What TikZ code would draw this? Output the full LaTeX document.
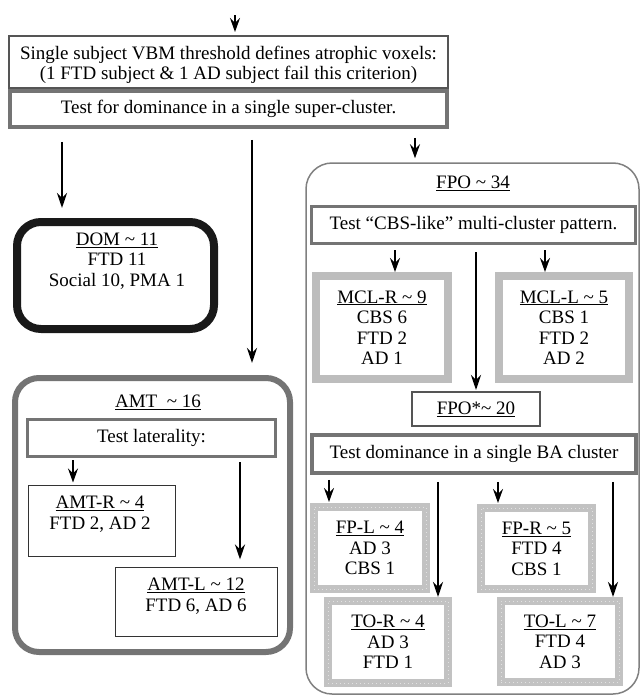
\documentclass[tikz,border=0pt]{standalone}
\usepackage{fontspec}
\setmainfont{Liberation Serif}
\usetikzlibrary{arrows.meta}
\definecolor{darkframe}{HTML}{555555}
\definecolor{midframe}{HTML}{747474}
\definecolor{lightframe}{HTML}{BDBDBD}
\definecolor{dotframe}{HTML}{C2C2C2}
\definecolor{dotlight}{HTML}{E2E2E2}
\begin{document}
\begin{tikzpicture}[x=1pt,y=-1pt,
  txt/.style={align=center,inner sep=0pt,font=\fontsize{19}{20.5}\selectfont},
  plainbox/.style={draw=darkframe,line width=2pt,fill=white,inner sep=0pt},
  testbox/.style={draw=midframe,line width=3.5pt,fill=white,inner sep=0pt},
  thinbox/.style={draw=black!80,line width=1pt,fill=white,inner sep=0pt},
  heavybox/.style={draw=black!90,line width=8pt,rounded corners=24pt,fill=white,inner sep=0pt},
  amtbox/.style={draw=midframe,line width=6pt,rounded corners=24pt,fill=white,inner sep=0pt},
  groupbox/.style={draw=gray,line width=1.5pt,rounded corners=26pt,fill=white,inner sep=0pt},
  greybox/.style={draw=lightframe,line width=8pt,fill=white,inner sep=0pt},
  dotbox/.style={draw=dotframe,line width=8pt,fill=white,inner sep=0pt,
    postaction={draw=dotlight,line width=1pt,dash pattern=on 1pt off 3pt}},
  arr/.style={-{Stealth[length=15pt,width=10pt,inset=5pt]},line width=2.6pt},
  sarr/.style={-{Stealth[length=14pt,width=10pt,inset=5pt]},line width=1.8pt}]
\useasboundingbox (0,0) rectangle (641,696);

% threshold and first test
\node[plainbox,minimum width=439pt,minimum height=52pt] (thr) at (228.5,62) {};
\node[txt] (thrtext) at (228.5,65) {Single subject VBM threshold defines atrophic voxels:\\(1 FTD subject \& 1 AD subject fail this criterion)};
\node[testbox,minimum width=437pt,minimum height=36pt,txt] (sup) at (228.5,109) {Test for dominance in a single super-cluster.};
\coordinate (entry) at (235,15);
\draw[sarr,shorten >=3pt] (entry) -- (thr.north -| entry);

% dominant cluster
\node[heavybox,minimum width=197pt,minimum height=107pt] (dom) at (115.5,275.5) {};
\node[txt] (domtext) at (117,261) {\underline{DOM \textasciitilde{} 11}\\FTD 11\\Social 10, PMA 1};

% anterior medial temporal group
\node[amtbox,minimum width=275pt,minimum height=274pt] (amt) at (152.5,515) {};
\node[txt] (amttitle) at (158,402) {\underline{AMT\ \ \textasciitilde{} 16}};
\node[testbox,line width=3pt,minimum width=248pt,minimum height=37pt,txt] (lat) at (151.5,438) {Test laterality:};
\node[thinbox,minimum width=147pt,minimum height=71pt] (amtr) at (101.5,520.5) {};
\node[txt] (amtrtext) at (100,514) {\underline{AMT-R \textasciitilde{} 4}\\FTD 2, AD 2};
\node[thinbox,minimum width=162pt,minimum height=69pt] (amtl) at (196,601.5) {};
\node[txt] (amtltext) at (196,596) {\underline{AMT-L \textasciitilde{} 12}\\FTD 6, AD 6};

% fronto-parietal-occipital group
\node[groupbox,minimum width=333pt,minimum height=531pt] (fpo) at (472.5,428.5) {};
\node[txt] (fpotitle) at (473,183) {\underline{FPO \textasciitilde{} 34}};
\node[testbox,line width=3pt,minimum width=324pt,minimum height=37pt,txt] (cbs) at (473.5,225) {Test “CBS-like” multi-cluster pattern.};
\node[greybox,minimum width=132pt,minimum height=103pt,txt] (mclr) at (382,327.5) {\underline{MCL-R \textasciitilde{} 9}\\CBS 6\\FTD 2\\AD 1};
\node[greybox,minimum width=130pt,minimum height=103pt,txt] (mcll) at (564,327.5) {\underline{MCL-L \textasciitilde{} 5}\\CBS 1\\FTD 2\\AD 2};
\node[plainbox,minimum width=128pt,minimum height=34pt,txt] (fpos) at (476,409) {\underline{FPO*\textasciitilde{} 20}};
\node[testbox,minimum width=324pt,minimum height=38pt,txt] (ba) at (474,454) {Test dominance in a single BA cluster};
\node[dotbox,minimum width=112pt,minimum height=82pt,txt] (fpl) at (370,548) {\underline{FP-L \textasciitilde{} 4}\\AD 3\\CBS 1};
\node[dotbox,minimum width=111pt,minimum height=81pt,txt] (fpr) at (536.5,548.5) {\underline{FP-R \textasciitilde{} 5}\\FTD 4\\CBS 1};
\node[dotbox,minimum width=120pt,minimum height=82pt,txt] (tor) at (388,642) {\underline{TO-R \textasciitilde{} 4}\\AD 3\\FTD 1};
\node[dotbox,minimum width=118pt,minimum height=81pt,txt] (tol) at (560,641.5) {\underline{TO-L \textasciitilde{} 7}\\FTD 4\\AD 3};

% connectors from the super-cluster test
\draw[arr,shorten <=13pt,shorten >=10pt] (sup.south -| 62,0) -- (dom.north -| 62,0);
\draw[arr,shorten <=11pt,shorten >=12pt] (sup.south -| 252,0) -- (amt.north -| 252,0);
\draw[sarr,shorten <=9pt,shorten >=4pt] (sup.south -| 415,0) -- (fpo.north -| 415,0);

% connectors inside the AMT group
\draw[sarr,shorten <=2pt,shorten >=2pt] (lat.south -| 73,0) -- (amtr.north -| 73,0);
\draw[arr,shorten <=4pt,shorten >=7pt] (lat.south -| 240,0) -- (amtl.north -| 240,0);

% connectors inside the FPO group
\draw[sarr,shorten <=5pt] (cbs.south -| 395,0) -- (mclr.north -| 395,0);
\draw[sarr,shorten <=5pt] (cbs.south -| 545,0) -- (mcll.north -| 545,0);
\draw[arr,shorten <=7pt,shorten >=1pt] (cbs.south -| 476,0) -- (fpos.north -| 476,0);
\draw[sarr,shorten <=5pt,shorten >=1pt] (ba.south -| 329,0) -- (fpl.north -| 329,0);
\draw[arr,shorten <=7pt] (ba.south -| 438,0) -- (tor.north -| 438,0);
\draw[sarr,shorten <=7pt,shorten >=1pt] (ba.south -| 498,0) -- (fpr.north -| 498,0);
\draw[arr,shorten <=7pt] (ba.south -| 613,0) -- (tol.north -| 613,0);
\end{tikzpicture}
\end{document}
